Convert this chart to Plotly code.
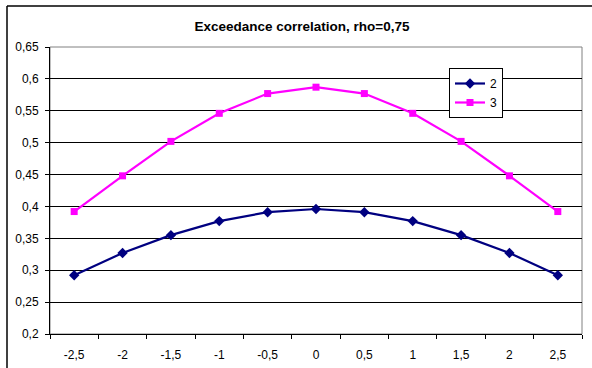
import plotly.graph_objects as go

# Category labels and series values
categories = ["-2,5", "-2", "-1,5", "-1", "-0,5", "0", "0,5", "1", "1,5", "2", "2,5"]
series_2 = [0.292, 0.327, 0.355, 0.377, 0.391, 0.396, 0.391, 0.377, 0.355, 0.327, 0.292]
series_3 = [0.392, 0.448, 0.502, 0.546, 0.577, 0.587, 0.577, 0.546, 0.502, 0.448, 0.392]
y_ticks = [0.2, 0.25, 0.3, 0.35, 0.4, 0.45, 0.5, 0.55, 0.6, 0.65]

FONT = "Liberation Sans, Arial, sans-serif"

fig = go.Figure()
fig.add_trace(go.Scatter(
    x=categories, y=series_2, name="2", mode="lines+markers",
    line=dict(color="#000080", width=2.2),
    marker=dict(symbol="diamond", size=8, color="#000080"),
))
fig.add_trace(go.Scatter(
    x=categories, y=series_3, name="3", mode="lines+markers",
    line=dict(color="#FF00FF", width=2.2),
    marker=dict(symbol="square", size=7, color="#FF00FF"),
))

L, R, T, B = 50, 10, 47, 34
W, H = 592, 368
pw, ph = W - L - R, H - T - B

def px_x(x):
    return (x - L) / pw

def px_y(y):
    return (H - B - y) / ph

fig.update_layout(
    width=W, height=H,
    margin=dict(l=L, r=R, t=T, b=B, autoexpand=False),
    paper_bgcolor="white", plot_bgcolor="white",
    separators=", ",
    font=dict(family=FONT, size=12, color="black"),
    title=dict(
        text="<b>Exceedance correlation, rho=0,75</b>",
        font=dict(family=FONT, size=13.5, color="black"),
        x=0.51, xanchor="center", y=1 - 26 / H, yanchor="middle",
    ),
    showlegend=True,
    legend=dict(
        x=px_x(476), y=px_y(68), xanchor="center", yanchor="top",
        bgcolor="white", bordercolor="black", borderwidth=1,
        font=dict(family=FONT, size=12, color="black"),
        itemwidth=30, tracegroupgap=0,
    ),
    xaxis=dict(
        type="category", tickson="boundaries",
        showgrid=False, zeroline=False, automargin=False,
        showline=True, linecolor="black", linewidth=1,
        ticks="outside", ticklen=4, tickcolor="black",
        tickfont=dict(family=FONT, size=12),
        ticklabelstandoff=10,
        range=[-0.5, 10.5],
    ),
    yaxis=dict(
        range=[0.2, 0.65], tickvals=y_ticks, tickformat=".2~f",
        showgrid=True, gridcolor="black", gridwidth=1,
        zeroline=False, automargin=False,
        showline=True, linecolor="black", linewidth=1,
        ticks="outside", ticklen=4, tickcolor="black",
        tickfont=dict(family=FONT, size=12),
        ticklabelstandoff=4,
    ),
    shapes=[
        # plot area frame
        dict(type="rect", xref="paper", yref="paper", x0=0, x1=1, y0=0, y1=1,
             line=dict(color="#808080", width=1), layer="below"),
        # chart area border (left and top edges)
        dict(type="line", xref="paper", yref="paper",
             x0=px_x(7), x1=px_x(7), y0=px_y(6), y1=px_y(372),
             line=dict(color="black", width=1.5)),
        dict(type="line", xref="paper", yref="paper",
             x0=px_x(7), x1=px_x(596), y0=px_y(6), y1=px_y(6),
             line=dict(color="black", width=1.5)),
    ],
)

fig.write_html("out.html")
